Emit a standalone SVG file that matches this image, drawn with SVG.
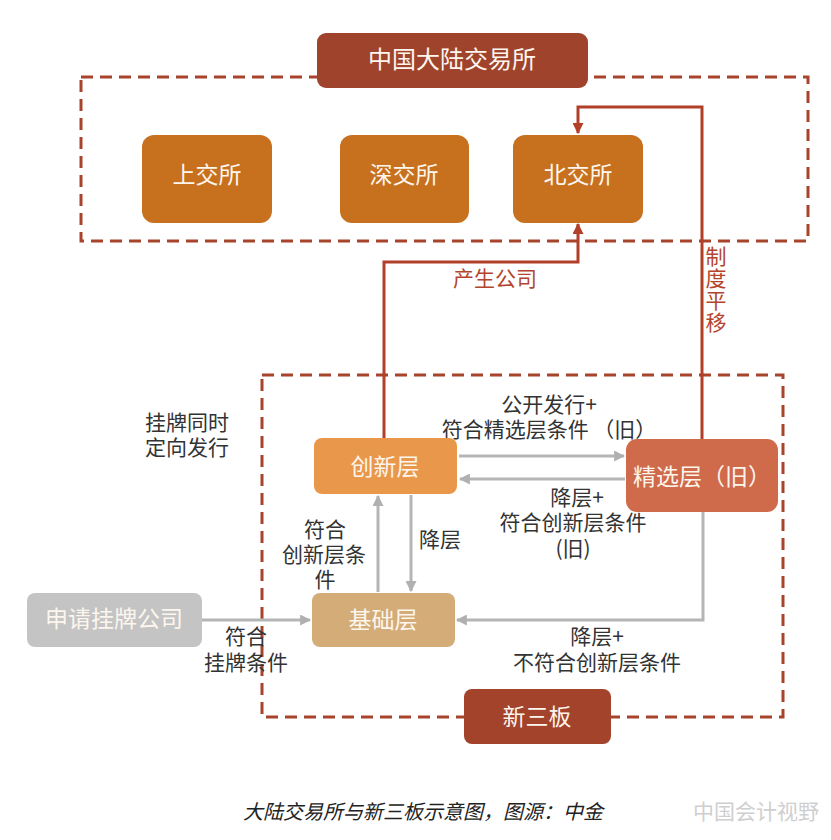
<svg xmlns="http://www.w3.org/2000/svg" width="831" height="840" viewBox="0 0 831 840">
<style>
  text { font-family: "Noto Sans CJK SC", "Noto Sans", sans-serif; }
  .nt { fill: #fdf6ee; font-size: 23px; text-anchor: middle; dominant-baseline: central; }
  .lb { fill: #333333; font-size: 21px; text-anchor: middle; dominant-baseline: central; }
  .rl { fill: #b4452d; font-size: 21px; text-anchor: middle; dominant-baseline: central; }
  .dash { fill: none; stroke: #a8432c; stroke-width: 3; stroke-dasharray: 12 7; }
  .red { fill: none; stroke: #b23f28; stroke-width: 3; }
  .gray { fill: none; stroke: #b5b5b5; stroke-width: 3; }
</style>
<defs>
  <marker id="ar" viewBox="0 0 10 10" refX="9" refY="5" markerWidth="11" markerHeight="11" markerUnits="userSpaceOnUse" orient="auto">
    <path d="M0,0 L10,5 L0,10 z" fill="#b23f28"/>
  </marker>
  <marker id="ag" viewBox="0 0 10 10" refX="9" refY="5" markerWidth="11" markerHeight="11" markerUnits="userSpaceOnUse" orient="auto">
    <path d="M0,0 L10,5 L0,10 z" fill="#b0b0b0"/>
  </marker>
</defs>
<rect width="831" height="840" fill="#ffffff"/>

<g id="frames">
  <rect class="dash" x="81" y="77" width="727" height="164"/>
  <rect class="dash" x="262" y="375" width="521" height="342"/>
</g>

<g id="connectors">
  <path class="red" d="M702,439 V107 H578 V133" marker-end="url(#ar)"/>
  <path class="red" d="M384,438 V262 H578 V224" marker-end="url(#ar)"/>
  <path class="gray" d="M459,456 H624" marker-end="url(#ag)"/>
  <path class="gray" d="M625,479 H460" marker-end="url(#ag)"/>
  <path class="gray" d="M378,592 V496" marker-end="url(#ag)"/>
  <path class="gray" d="M411,495 V591" marker-end="url(#ag)"/>
  <path class="gray" d="M202,620 H310" marker-end="url(#ag)"/>
  <path class="gray" d="M703,512 V620 H457" marker-end="url(#ag)"/>
</g>

<g id="labels">
  <text class="rl" x="495" y="277">产生公司</text>
  <text x="716" y="246" style="font-size:21px;fill:#b4452d;writing-mode:vertical-rl;letter-spacing:1px">制度平移</text>
  <text class="lb" x="549" y="403">公开发行+<tspan x="549" dy="25">符合精选层条件 （旧）</tspan></text>
  <text class="lb" x="577" y="496">降层+<tspan x="573" dy="25">符合创新层条件</tspan><tspan x="573" dy="26">(旧)</tspan></text>
  <text class="lb" x="440" y="538">降层</text>
  <text class="lb" x="325" y="528">符合<tspan x="324" dy="25">创新层条</tspan><tspan x="325" dy="25">件</tspan></text>
  <text class="lb" x="145" y="421" style="text-anchor:start">挂牌同时<tspan x="145" dy="25">定向发行</tspan></text>
  <text class="lb" x="246" y="635">符合<tspan x="246" dy="26">挂牌条件</tspan></text>
  <text class="lb" x="597" y="635">降层+<tspan x="597" dy="26">不符合创新层条件</tspan></text>
</g>

<g id="n-dalu">
  <rect x="317" y="33" width="271" height="55" rx="9" fill="#a0432c"/>
  <text class="nt" x="452" y="57" style="font-size:24px">中国大陆交易所</text>
</g>
<g id="n-shang">
  <rect x="142" y="135" width="130" height="88" rx="12" fill="#c7711f"/>
  <text class="nt" x="207" y="173">上交所</text>
</g>
<g id="n-shen">
  <rect x="340" y="135" width="129" height="88" rx="12" fill="#c7711f"/>
  <text class="nt" x="404" y="173">深交所</text>
</g>
<g id="n-bei">
  <rect x="513" y="135" width="130" height="88" rx="12" fill="#c7711f"/>
  <text class="nt" x="578" y="173">北交所</text>
</g>
<g id="n-chuangxin">
  <rect x="314" y="438" width="143" height="56" rx="8" fill="#e9984b"/>
  <text class="nt" x="385" y="465">创新层</text>
</g>
<g id="n-jingxuan">
  <rect x="626" y="439" width="152" height="73" rx="11" fill="#cf6a4b"/>
  <text class="nt" x="702" y="475">精选层（旧）</text>
</g>
<g id="n-jichu">
  <rect x="312" y="593" width="143" height="54" rx="8" fill="#d3ac77"/>
  <text class="nt" x="383" y="618">基础层</text>
</g>
<g id="n-shenqing">
  <rect x="27" y="593" width="175" height="54" rx="8" fill="#c4c4c4"/>
  <text class="nt" x="114" y="617">申请挂牌公司</text>
</g>
<g id="n-xinsanban">
  <rect x="464" y="689" width="147" height="55" rx="8" fill="#a3432b"/>
  <text class="nt" x="537" y="715">新三板</text>
</g>

<g id="caption">
  <text x="423" y="810" style="font-size:20px;font-style:italic;fill:#222222;text-anchor:middle;dominant-baseline:central">大陆交易所与新三板示意图，图源：中金</text>
  <text x="693" y="810" style="font-size:21px;fill:#cfcfcf;dominant-baseline:central">中国会计视野</text>
</g>
</svg>
